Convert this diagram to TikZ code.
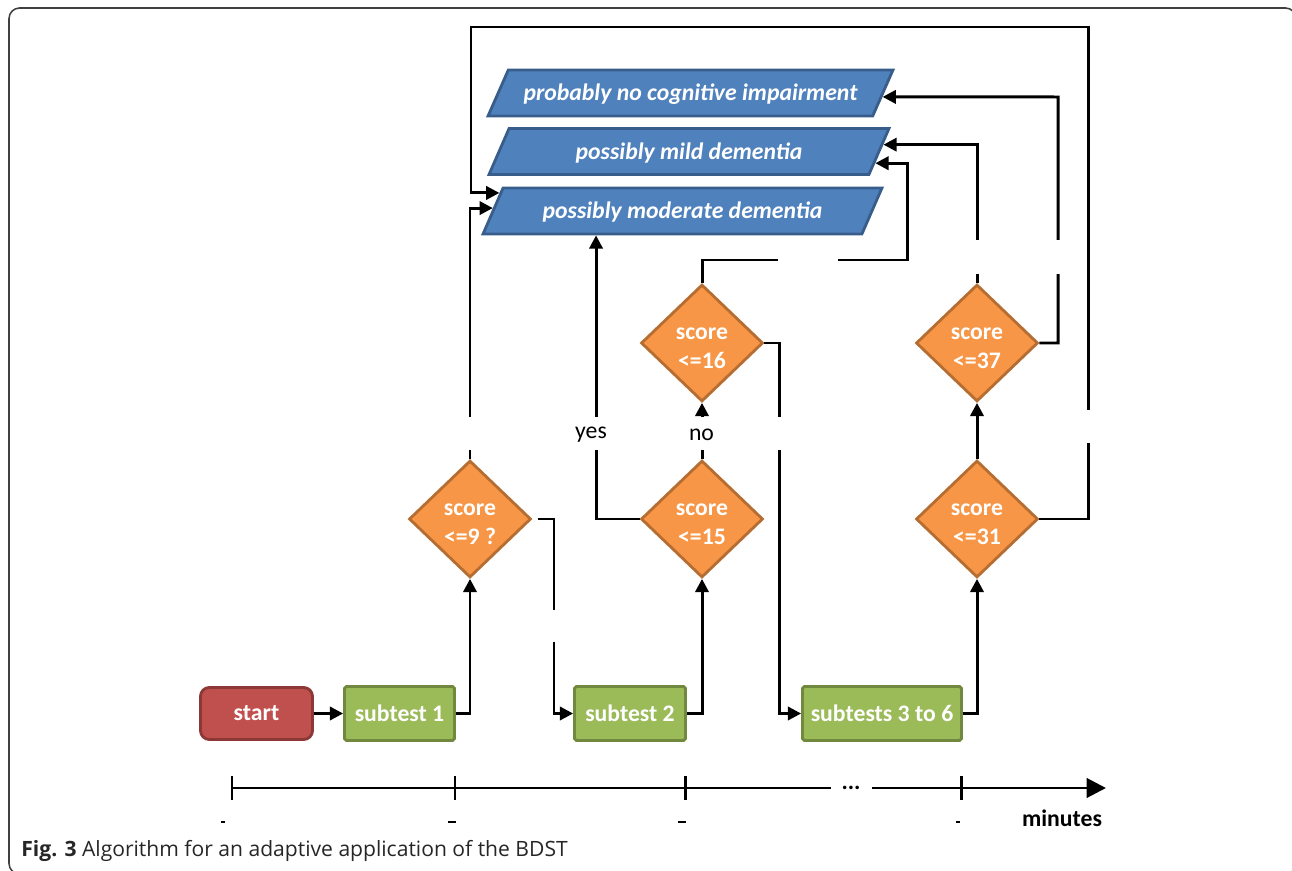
\documentclass[tikz,border=0pt]{standalone}
\usepackage{fontspec}
\setmainfont{Carlito}
\newfontfamily\captionfont{Open Sans}
\usepackage{tikz}
\usetikzlibrary{shapes.geometric}
\usetikzlibrary{arrows.meta}
\usetikzlibrary{calc}
\usepackage{xcolor}
\definecolor{startred}{HTML}{C0504D}
\definecolor{startedge}{HTML}{8C3836}
\definecolor{testgreen}{HTML}{9BBB59}
\definecolor{testedge}{HTML}{71893F}
\definecolor{scoreorange}{HTML}{F79646}
\definecolor{scoreedge}{HTML}{B66D31}
\definecolor{resultblue}{HTML}{4F81BD}
\definecolor{resultedge}{HTML}{385D8A}
\newcommand{\firstline}{\rule{0pt}{12.5pt}}

\begin{document}
\begin{tikzpicture}[x=0.02cm,y=-0.02cm,
  every node/.style={font=\fontsize{13.5}{16}\selectfont},
  startbox/.style={draw=startedge,fill=startred,line width=1.6pt,rounded corners=5pt,minimum width=2.24cm,minimum height=1.04cm,text=white,font=\fontsize{13.5}{16}\selectfont\bfseries},
  testbox/.style={draw=testedge,fill=testgreen,line width=1.6pt,rounded corners=1pt,minimum height=1.08cm,text=white,font=\fontsize{13.5}{16}\selectfont\bfseries},
  scorebox/.style={diamond,draw=scoreedge,fill=scoreorange,line width=1.6pt,minimum width=2.44cm,minimum height=2.34cm,inner sep=0pt,align=center,text=white,font=\fontsize{13.5}{16.5}\selectfont\bfseries},
  resultbox/.style={trapezium,trapezium left angle=49,trapezium right angle=131,trapezium stretches body,draw=resultedge,fill=resultblue,line width=1.6pt,minimum height=0.92cm,inner sep=0pt,text=white,font=\fontsize{13.5}{16}\selectfont\bfseries\itshape},
  conn/.style={line width=1.7pt},
  arr/.style={conn,-{Triangle[length=7.5pt,width=7.5pt]}}]
\useasboundingbox (0,0) rectangle (1292,871);
\clip (0,0) rectangle (1292,871);
\draw[black!75,line width=0.9pt,rounded corners=6pt] (9,8) rectangle (1296,874);

\node[startbox] (start) at (256.5,713.5) {start};
\node[testbox,minimum width=2.2cm] (sub1) at (399.5,713.5) {subtest 1};
\node[testbox,minimum width=2.22cm] (sub2) at (630,713.5) {subtest 2};
\node[testbox,minimum width=3.18cm] (sub3) at (882,713.5) {subtests 3 to 6};
\node[scorebox] (s9) at (470,519) {\firstline score\\<=9 ?};
\node[scorebox] (s15) at (702,519) {\firstline score\\<=15};
\node[scorebox] (s16) at (702,343) {\firstline score\\<=16};
\node[scorebox] (s31) at (977,519) {\firstline score\\<=31};
\node[scorebox] (s37) at (977,343) {\firstline score\\<=37};
\node[resultbox,minimum width=8.1cm] (none) at (690.5,93) {\rule{0pt}{11pt}probably no cognitive impairment};
\node[resultbox,minimum width=8cm] (mild) at (689,151.5) {\rule{0pt}{11pt}possibly mild dementia};
\node[resultbox,minimum width=7.98cm] (moderate) at (682.5,211) {\rule{0pt}{11pt}possibly moderate dementia};

% where the arrows meet the slanted sides
\coordinate (t1) at ($(none.top right corner)!0.58!(none.bottom right corner)$);
\coordinate (t2a) at ($(mild.top right corner)!0.36!(mild.bottom right corner)$);
\coordinate (t2b) at ($(mild.top right corner)!0.74!(mild.bottom right corner)$);
\coordinate (t3a) at ($(moderate.top left corner)!0.13!(moderate.bottom left corner)$);
\coordinate (t3b) at ($(moderate.top left corner)!0.44!(moderate.bottom left corner)$);
\coordinate (s9r) at (554,519);
\coordinate (s16r) at (779,343);
\coordinate (s16u) at (907,260);
\coordinate (s37r) at (1058,97);
\coordinate (loopr) at (1088,27);
\coordinate (loopl) at (471,27);

\draw[arr] (start) -- (sub1);
\draw[arr] (sub1.east) -| (s9.south);
\draw[arr] (sub2.east) -| (s15.south);
\draw[arr] (sub3.east) -| (s31.south);
\draw[arr,shorten <=3pt] (s9.east) -- (s9r) |- (sub2.west);
\draw[arr] (s16.east) -- (s16r) |- (sub3.west);
\draw[arr] (s15.north) -- (s16.south);
\draw[arr] (s31.north) -- (s37.south);
\draw[arr] (s9.north) |- (t3b);
\draw[arr] (s15.west) -| ([xshift=-1.73cm]moderate.south);
\draw[arr] (s16.north) |- (s16u) |- (t2b);
\draw[arr] (s37.north) |- (t2a);
\draw[arr] (s37.east) -| (s37r) -- (t1);
\draw[arr] (s31.east) -| (loopr) -- (loopl) |- (t3a);

% breaks in the lines
\fill[white] (464,417) rectangle (478,450);
\fill[white] (587,417) rectangle (601,450);
\fill[white] (695,417) rectangle (709,450);
\fill[white] (772,417) rectangle (786,450);
\fill[white] (1081,410) rectangle (1095,443);
\fill[white] (547,610) rectangle (561,642);
\fill[white] (968,240) rectangle (982,274);
\fill[white] (1051,240) rectangle (1065,274);
\fill[white] (778,253) rectangle (838,267);
\node (yes) at (591,435) {yes};
\node (no) at (701.5,435) {no};

% time axis
\draw[conn,-{Triangle[length=11pt,width=11pt]}] (232,788) -- (1106,788);
\foreach \x in {232,455,685,961} \draw[conn] (\x,776) -- (\x,800);
\foreach \x/\w in {223/2,452/4,682/4,958/2} \draw[line width=0.6pt] (\x-\w,822) -- (\x+\w,822);
\node[fill=white,inner sep=0pt,minimum width=0.82cm,minimum height=0.2cm] (dots) at (851,788) {\textbf{...}};
\node[font=\fontsize{13.5}{16}\selectfont\bfseries] (minutes) at (1062,818) {minutes};
\node[anchor=west,inner sep=0pt,text=black!85,font=\captionfont\fontsize{12}{14}\selectfont] (caption) at (21,851) {\textbf{Fig. 3} Algorithm for an adaptive application of the BDST};
\end{tikzpicture}
\end{document}
